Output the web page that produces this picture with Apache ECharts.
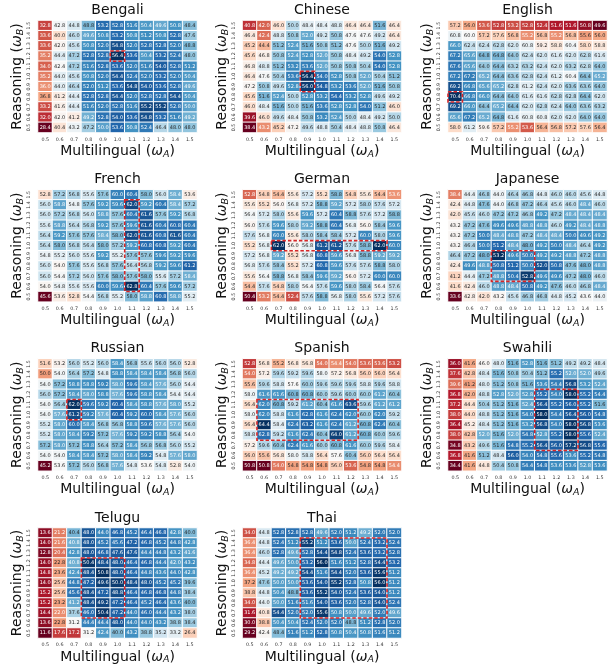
<!DOCTYPE html>
<html>
<head>
<meta charset="utf-8">
<script src="https://cdn.jsdelivr.net/npm/echarts@6/dist/echarts.min.js"></script>
<style>html,body{margin:0;padding:0;background:#fff}#c{width:612px;height:666px}</style>
</head>
<body>
<div id="c"></div>
<script>
// ---- categories ----
const wA = ['0.5','0.6','0.7','0.8','0.9','1.0','1.1','1.2','1.3','1.4','1.5'];
const wB = ['0.5','0.6','0.7','0.8','0.9','1.0','1.1','1.2','1.3','1.4','1.5'];
const languages = ['Bengali','Chinese','English','French','German','Japanese','Russian','Spanish','Swahili','Telugu','Thai'];

// ---- values: rows from ω_B = 1.5 (top) down to 0.5 (bottom); columns ω_A = 0.5 .. 1.5 ----
const bengali = [
[32.8,42.8,44.8,48.8,53.2,52.8,51.6,50.4,49.6,50.8,48.4],
[33.6,40.0,46.0,49.6,50.8,53.2,50.8,51.2,50.8,52.8,47.6],
[33.6,42.0,45.6,50.8,52.0,54.8,52.0,52.8,52.8,52.0,48.8],
[35.2,44.4,47.2,52.8,52.8,56.4,53.6,50.4,53.2,52.4,48.0],
[34.0,42.4,47.2,51.6,52.8,53.6,52.0,51.6,54.0,52.8,51.2],
[35.2,44.0,45.6,50.8,52.0,54.4,52.4,52.0,53.2,52.0,50.4],
[36.0,44.0,46.4,52.0,51.2,53.6,54.8,54.0,53.6,52.8,49.6],
[36.8,41.2,44.4,52.8,52.8,54.4,52.0,52.8,52.8,54.4,50.4],
[33.2,41.6,44.4,51.6,52.0,52.8,51.6,55.2,55.2,52.8,50.0],
[32.0,42.0,41.2,49.2,52.8,54.0,53.6,54.8,53.2,51.6,49.2],
[28.4,40.4,43.2,47.2,50.0,53.6,50.8,52.4,46.4,48.0,48.0]];
const chinese = [
[40.8,42.0,46.0,50.0,48.4,48.4,48.8,46.4,46.4,51.6,46.4],
[46.4,42.4,48.8,50.8,52.0,49.2,50.8,47.6,47.6,49.2,46.4],
[45.2,44.4,51.2,52.4,51.6,50.8,51.2,47.6,50.0,51.6,49.2],
[45.6,46.8,50.8,52.4,52.8,52.0,50.8,48.4,49.2,54.0,52.8],
[46.8,48.8,51.2,53.2,53.6,52.0,50.8,50.8,50.4,54.0,52.8],
[46.4,47.6,50.4,53.6,56.4,54.0,52.8,50.8,52.0,50.4,51.2],
[47.2,50.8,49.6,52.8,56.0,54.8,53.2,53.6,52.0,51.6,50.8],
[45.6,51.6,52.4,50.0,52.8,53.2,54.4,53.2,52.8,49.6,49.2],
[46.0,48.4,51.6,50.0,51.6,53.6,52.8,52.8,54.0,51.2,46.0],
[39.6,46.0,49.6,48.4,50.8,53.2,52.4,50.0,48.4,49.2,50.0],
[38.4,43.2,45.2,47.2,49.6,48.8,50.4,48.4,48.8,50.8,46.4]];
const english = [
[57.2,56.0,53.6,52.8,53.2,52.8,52.4,51.6,51.6,50.8,49.6],
[60.8,60.0,57.2,57.6,56.8,55.2,56.8,55.2,56.8,55.6,56.0],
[66.0,62.4,62.4,62.8,62.0,60.8,59.2,58.8,60.4,58.0,58.8],
[67.2,65.6,64.8,64.8,64.0,62.4,62.0,61.6,62.0,62.8,61.6],
[67.6,65.6,64.0,64.4,63.2,63.2,62.4,62.0,63.2,62.8,64.0],
[67.2,67.2,65.2,64.4,63.6,62.8,62.4,61.2,60.4,64.4,65.2],
[69.2,66.8,65.6,65.2,62.8,61.2,62.4,62.0,63.6,63.6,64.0],
[70.4,66.8,66.0,64.4,64.0,61.6,61.6,62.8,62.8,64.4,62.0],
[69.2,66.0,64.4,65.2,64.4,62.0,62.8,62.4,64.0,63.6,63.2],
[65.6,67.2,65.2,64.8,61.6,60.8,60.8,62.0,62.0,64.0,64.0],
[58.0,61.2,59.6,57.2,55.2,53.6,56.4,56.8,57.2,57.6,56.4]];
const french = [
[52.8,57.2,56.8,55.6,57.6,60.0,60.4,58.0,56.0,58.4,53.6],
[56.0,58.8,54.8,57.6,59.2,59.6,62.0,59.2,60.4,58.4,57.2],
[56.0,57.2,56.8,56.0,58.8,57.6,60.4,61.6,57.6,59.2,56.8],
[55.6,58.8,56.4,56.8,59.2,57.6,59.6,61.6,60.4,60.8,60.4],
[56.4,59.2,57.6,57.6,58.4,58.0,62.0,61.6,60.8,61.6,60.4],
[56.4,58.0,56.8,56.4,58.0,57.2,59.2,60.8,60.8,59.2,60.4],
[54.8,55.2,56.0,55.6,59.2,55.2,57.6,57.6,59.6,59.2,59.6],
[56.0,54.0,57.6,55.6,56.8,57.6,56.4,56.8,59.2,59.6,61.2],
[56.0,54.4,57.2,56.0,57.6,58.0,57.6,58.0,55.6,57.2,58.4],
[54.0,54.8,55.6,55.6,60.0,59.6,62.8,60.4,57.6,59.6,57.2],
[45.6,53.6,52.8,54.4,56.8,55.2,58.0,58.8,60.8,58.8,55.2]];
const german = [
[52.8,54.8,54.4,55.6,57.2,55.2,58.8,54.8,55.6,54.4,53.6],
[55.6,55.2,56.0,56.8,57.2,58.8,59.2,57.2,58.0,57.6,57.2],
[56.4,57.2,58.0,55.6,59.6,57.2,60.4,58.8,57.6,57.2,58.8],
[56.0,57.6,59.6,58.0,59.2,58.8,60.4,56.8,56.0,58.4,59.6],
[57.6,56.8,60.0,55.6,58.0,58.4,58.4,57.2,60.0,58.0,59.6],
[55.2,56.8,62.0,56.0,56.8,61.2,61.2,57.6,58.8,62.0,60.0],
[57.2,56.8,59.2,55.2,56.8,60.8,59.6,56.8,58.8,59.2,59.2],
[56.8,57.6,58.4,55.2,57.2,60.8,59.6,57.6,57.6,58.8,58.0],
[55.6,56.4,58.8,56.8,58.4,59.6,59.2,56.0,57.2,60.0,60.0],
[54.4,57.6,54.8,58.0,56.4,57.6,59.6,58.0,58.4,56.4,57.6],
[50.4,53.2,54.4,52.4,57.6,58.8,56.8,58.0,55.6,57.2,57.6]];
const japanese = [
[38.4,44.4,46.8,44.0,46.4,46.8,44.8,46.0,46.0,45.6,44.8],
[42.4,44.8,47.6,44.0,46.8,47.2,46.4,45.6,46.0,48.4,46.0],
[42.0,45.6,46.0,47.2,47.2,46.8,49.2,47.2,48.4,48.4,48.4],
[43.2,47.2,47.6,49.6,49.6,48.8,48.8,46.0,49.2,48.4,48.8],
[43.2,47.2,50.0,48.4,48.8,47.2,48.4,48.4,50.0,49.6,49.2],
[43.2,46.4,50.0,51.2,48.4,48.0,49.2,50.0,48.4,46.4,49.2],
[46.4,47.2,48.0,53.2,49.6,50.0,49.2,49.2,48.8,47.2,48.8],
[42.4,49.6,48.8,50.8,51.2,50.0,52.0,50.8,47.6,48.0,48.8],
[41.2,44.4,47.2,48.8,50.4,52.8,49.6,49.6,47.2,48.0,46.0],
[41.6,42.4,46.0,48.8,48.4,50.8,49.2,47.6,46.0,46.8,48.4],
[33.6,42.8,42.0,43.2,45.6,46.8,46.8,44.8,45.2,43.6,44.0]];
const russian = [
[51.6,53.2,56.0,55.2,56.0,58.4,56.8,55.6,56.0,56.0,52.8],
[50.0,54.0,56.4,57.2,54.8,58.8,58.4,58.4,58.4,56.8,56.0],
[54.0,57.2,58.8,58.8,59.2,58.0,59.6,58.4,57.6,56.0,54.4],
[56.0,57.2,58.4,58.0,58.8,57.6,59.6,58.8,58.4,54.4,54.4],
[54.0,56.4,62.0,59.6,59.2,60.4,58.4,58.8,57.6,58.0,55.2],
[54.0,57.6,61.2,59.2,57.6,60.4,59.2,60.0,58.4,57.6,56.0],
[55.2,58.0,60.0,58.4,56.8,56.8,58.8,59.6,57.6,57.6,56.0],
[55.2,58.0,58.4,59.2,57.2,57.6,59.2,59.2,58.8,56.4,54.0],
[57.2,58.0,57.2,58.8,56.4,57.2,58.4,56.8,56.8,56.0,55.2],
[54.0,54.0,58.4,58.4,57.2,58.0,58.4,59.2,54.8,57.6,58.0],
[45.2,53.6,57.2,56.0,56.8,57.6,54.8,53.6,54.8,52.8,54.0]];
const spanish = [
[52.8,56.8,55.2,56.8,56.8,54.0,54.4,54.0,53.6,53.6,53.2],
[54.0,57.2,59.6,59.2,59.6,58.0,57.2,56.8,56.0,56.0,56.4],
[55.6,59.6,58.8,57.6,60.0,59.6,59.6,59.6,58.8,59.6,58.8],
[58.0,61.6,61.6,60.8,60.8,60.0,59.6,60.0,60.0,61.2,60.4],
[56.4,62.0,60.8,59.2,61.2,60.4,61.6,63.6,59.6,61.2,61.2],
[58.0,62.0,58.8,61.6,62.8,61.6,62.4,62.0,60.0,62.0,59.2],
[56.4,64.4,58.4,62.4,63.2,61.6,62.4,61.2,60.8,62.4,60.4],
[58.8,62.8,59.2,61.6,62.4,60.4,64.0,61.2,60.8,60.0,59.6],
[57.2,59.6,60.4,62.4,61.6,60.0,60.8,61.6,60.0,59.6,58.4],
[56.0,55.6,56.8,58.0,58.8,56.4,57.6,60.4,56.0,56.4,56.4],
[50.8,50.8,54.0,54.8,54.8,54.8,56.0,53.6,54.8,54.8,54.4]];
const swahili = [
[36.0,41.6,46.0,48.0,51.6,52.8,51.6,51.2,49.2,49.2,48.4],
[37.6,42.8,48.4,51.6,50.8,50.4,51.2,55.2,52.0,52.0,49.6],
[39.6,41.2,48.0,51.2,50.8,51.6,53.6,54.4,56.8,53.2,52.4],
[36.8,42.0,48.8,52.8,52.0,52.8,55.2,54.0,58.0,55.2,54.4],
[37.2,44.4,50.4,51.2,51.6,52.4,56.4,55.2,56.0,55.2,51.6],
[38.0,44.0,48.8,51.2,51.6,54.0,58.0,54.4,56.4,56.0,54.8],
[36.4,45.2,48.4,51.2,51.6,53.2,56.8,54.0,58.0,56.8,53.6],
[38.0,42.8,52.0,51.6,52.0,54.8,52.8,55.2,58.0,55.6,52.4],
[34.8,43.2,49.6,51.6,54.8,55.2,56.4,56.0,57.2,56.8,55.6],
[36.8,41.6,51.2,48.4,56.0,54.0,54.8,55.6,53.6,55.2,54.8],
[34.4,41.6,44.8,50.4,50.8,54.4,54.8,53.6,53.6,52.8,53.6]];
const telugu = [
[13.6,21.2,40.4,48.0,44.0,46.8,45.2,46.4,46.8,42.8,40.0],
[14.0,21.6,40.8,48.0,45.2,45.6,47.2,46.8,45.2,44.8,42.8],
[12.8,20.4,42.8,48.0,46.8,47.6,47.6,44.4,44.8,43.2,41.6],
[14.0,22.8,40.8,50.4,48.4,48.0,46.4,46.8,44.4,42.0,43.2],
[14.8,23.6,42.4,48.4,50.8,48.0,46.4,44.8,43.6,44.0,42.8],
[14.0,25.6,44.8,47.2,49.6,50.0,48.4,48.0,45.2,45.2,39.6],
[15.2,25.6,45.6,48.4,47.2,48.8,46.4,46.8,46.8,44.8,38.4],
[15.2,23.2,41.2,48.4,49.2,47.2,46.4,45.2,46.4,43.6,40.0],
[14.4,22.0,37.6,46.0,50.4,47.2,44.0,46.0,44.4,43.2,38.0],
[13.6,22.8,31.2,44.4,44.4,48.0,44.0,44.0,43.2,38.8,38.4],
[11.6,17.6,17.2,31.2,42.4,40.0,43.2,38.8,35.2,33.2,26.4]];
const thai = [
[34.0,44.8,52.8,52.8,52.8,49.6,52.0,51.2,49.2,52.0,52.0],
[36.4,44.8,52.4,51.2,55.2,51.2,53.6,50.0,52.4,53.2,52.4],
[36.4,46.0,52.8,49.6,52.8,54.4,54.8,52.4,53.6,53.2,52.8],
[34.8,44.4,49.6,50.0,53.2,56.0,51.6,51.2,52.8,54.4,53.2],
[36.4,45.2,49.2,49.2,54.4,51.6,54.4,52.0,53.6,55.6,51.2],
[37.2,47.6,50.0,50.0,53.6,54.0,55.2,52.8,50.8,56.0,51.2],
[38.8,44.8,50.4,48.8,53.6,55.2,54.0,52.4,53.6,54.0,51.2],
[34.0,44.0,50.0,51.6,51.6,54.0,53.6,52.0,52.8,54.0,52.4],
[31.6,40.8,54.4,52.0,52.0,55.6,50.8,50.0,49.6,52.0,49.6],
[30.0,38.8,50.4,50.4,52.4,52.0,52.0,48.8,51.2,52.8,52.0],
[29.2,42.4,48.4,51.6,51.2,52.8,50.8,50.4,50.8,51.6,51.2]];

// ---- highlighted regions: [ωA from, ωA to, ωB from, ωB to] ----
const highlightBoxes = [
['1.0','1.0','1.2','1.2'],
['0.9','0.9','0.9','1.0'],
['0.5','0.5','0.8','0.8'],
['1.1','1.1','0.6','1.4'],
['0.7','1.4','1.0','1.0'],
['0.8','1.0','0.7','0.9'],
['0.7','0.7','1.0','1.1'],
['0.6','1.2','0.8','1.1'],
['1.1','1.3','0.7','1.2'],
['0.8','1.0','0.7','1.2'],
['0.9','1.4','0.7','1.4']];

const tables = [bengali, chinese, english, french, german, japanese, russian, spanish, swahili, telugu, thai];

// ---- styling / layout ----
const RdBu = ['#67001f','#b2182b','#d6604d','#f4a582','#fddbc7','#f7f7f7','#d1e5f0','#92c5de','#4393c3','#2166ac','#053061'];
const FONT = 'DejaVu Sans';
const colLeft = [38, 242.5, 448];
const rowTop = [20.5, 189.7, 358.8, 528];
const GW = 159, GH = 112;

function hexToRgb(h){return [parseInt(h.slice(1,3),16),parseInt(h.slice(3,5),16),parseInt(h.slice(5,7),16)];}
const stops = RdBu.map(hexToRgb);
function interp(t){
  t = Math.max(0, Math.min(1, t));
  const p = t * (stops.length - 1);
  const i = Math.min(Math.floor(p), stops.length - 2);
  const f = p - i;
  return stops[i].map((c, k) => c + (stops[i+1][k] - c) * f);
}
function lum(rgb){
  const l = rgb.map(c => { c /= 255; return c <= 0.03928 ? c / 12.92 : Math.pow((c + 0.055) / 1.055, 2.4); });
  return 0.2126*l[0] + 0.7152*l[1] + 0.0722*l[2];
}

const grid = [], xAxis = [], yAxis = [], series = [], visualMap = [], title = [];
const xName = '{n|Multilingual (}{w|ω}{s|A}{n|)}';
const yName = '{n|Reasoning (}{w|ω}{s|B}{n|)}';
const rich = {
  n: {fontSize: 14, fontFamily: FONT, color: '#111', lineHeight: 16, verticalAlign: 'middle'},
  w: {fontSize: 14, fontFamily: FONT, color: '#111', fontStyle: 'italic', lineHeight: 16, verticalAlign: 'middle'},
  s: {fontSize: 9.5, fontFamily: FONT, color: '#111', fontStyle: 'italic', lineHeight: 5, verticalAlign: 'bottom'}
};

languages.forEach((lang, i) => {
  const r = Math.floor(i / 3), c = i % 3;
  const left = colLeft[c], top = rowTop[r];
  grid.push({left: left, top: top, width: GW, height: GH, containLabel: false});
  xAxis.push({
    type: 'category', gridIndex: i, data: wA, position: 'bottom',
    axisLine: {show: false}, axisTick: {show: false}, splitLine: {show: false},
    axisLabel: {fontSize: 4.8, fontFamily: FONT, color: '#333', margin: 4.5, interval: 0},
    name: xName, nameLocation: 'middle', nameGap: 11,
    nameTextStyle: {rich: rich}
  });
  yAxis.push({
    type: 'category', gridIndex: i, data: wB,
    axisLine: {show: false}, axisTick: {show: false}, splitLine: {show: false},
    axisLabel: {fontSize: 4.8, fontFamily: FONT, color: '#333', margin: 6.5, rotate: 90, interval: 0},
    name: yName, nameLocation: 'middle', nameRotate: 90, nameGap: 11,
    nameTextStyle: {rich: rich}
  });
  const tbl = tables[i];
  const flat = tbl.flat();
  const vmin = Math.min(...flat), vmax = Math.max(...flat);
  const data = [];
  tbl.forEach((row, ri) => {
    row.forEach((v, ci) => {
      const rgb = interp((v - vmin) / (vmax - vmin));
      data.push({value: [ci, 10 - ri, v], label: {color: lum(rgb) > 0.408 ? '#262626' : '#ffffff'}});
    });
  });
  series.push({
    type: 'heatmap', xAxisIndex: i, yAxisIndex: i, data: data,
    itemStyle: {borderColor: '#ffffff', borderWidth: 1},
    label: {show: true, fontSize: 5, fontFamily: FONT, formatter: p => p.value[2].toFixed(1)},
    emphasis: {disabled: true}, animation: false
  });
  visualMap.push({
    type: 'continuous', show: false, seriesIndex: i, dimension: 2,
    min: vmin, max: vmax, inRange: {color: RdBu}
  });
  title.push({
    text: lang, left: left + GW / 2, top: top - 17, textAlign: 'center', padding: 0,
    textStyle: {fontSize: 14, fontWeight: 'normal', fontFamily: FONT, color: '#111'}
  });
});

languages.forEach((lang, i) => {
  const b = highlightBoxes[i];
  series.push({
    type: 'custom', xAxisIndex: i, yAxisIndex: i, z: 5, silent: true, clip: false, animation: false,
    data: [[wA.indexOf(b[0]), wA.indexOf(b[1]), wB.indexOf(b[2]), wB.indexOf(b[3])]],
    encode: {x: [0, 1], y: [2, 3]},
    renderItem: function(params, api) {
      const p0 = api.coord([api.value(0), api.value(3)]);
      const p1 = api.coord([api.value(1), api.value(2)]);
      const s = api.size([1, 1]);
      return {
        type: 'rect',
        shape: {x: p0[0] - s[0] / 2, y: p0[1] - s[1] / 2, width: p1[0] - p0[0] + s[0], height: p1[1] - p0[1] + s[1]},
        style: {fill: null, stroke: '#d62728', lineWidth: 1.6, lineDash: [3.5, 2]}
      };
    }
  });
});

const chart = echarts.init(document.getElementById('c'), null, {renderer: 'canvas'});
chart.setOption({animation: false, backgroundColor: '#fff', title, grid, xAxis, yAxis, visualMap, series});
</script>
</body>
</html>
